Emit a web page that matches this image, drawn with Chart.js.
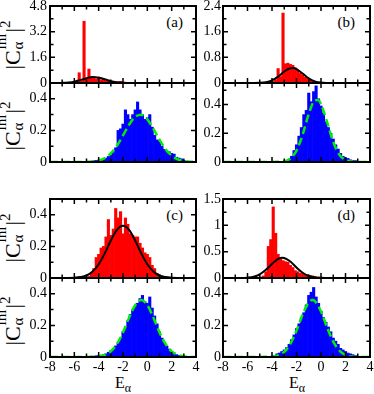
<!DOCTYPE html>
<html><head><meta charset="utf-8">
<script src="https://cdn.jsdelivr.net/npm/chart.js@4.4.1/dist/chart.umd.min.js"></script>
<style>
html,body{margin:0;padding:0;background:#fff;}
#wrap{position:relative;width:374px;height:394px;overflow:hidden;font-family:'Liberation Serif','Times New Roman',serif;color:#000;}
canvas{position:absolute;left:0;top:0;}
.lab{position:absolute;font-size:15px;line-height:15px;white-space:nowrap;}
.yt{position:absolute;white-space:nowrap;transform:translate(-50%,-50%) rotate(-90deg);font-size:22px;line-height:22px;}
.stk{display:inline-block;position:relative;width:18px;height:22px;vertical-align:baseline;}
.stk span{position:absolute;left:1px;font-size:15px;line-height:15px;}
.stk .sp{top:-4px;}
.stk .sb{top:13px;}
.s2{font-size:15px;position:relative;top:-10px;}
.xt{position:absolute;transform:translateX(-50%);font-size:16px;line-height:16px;white-space:nowrap;}
.xt sub{font-size:12px;vertical-align:baseline;position:relative;top:4px;}
</style></head><body><div id="wrap">
<div class="yt" style="left:12px;top:45px">|C<span class="stk"><span class="sp">ini</span><span class="sb">α</span></span>|<span class="s2">2</span></div>
<div class="yt" style="left:12px;top:126px">|C<span class="stk"><span class="sp">ini</span><span class="sb">α</span></span>|<span class="s2">2</span></div>
<div class="yt" style="left:12px;top:238px">|C<span class="stk"><span class="sp">ini</span><span class="sb">α</span></span>|<span class="s2">2</span></div>
<div class="yt" style="left:12px;top:321px">|C<span class="stk"><span class="sp">ini</span><span class="sb">α</span></span>|<span class="s2">2</span></div>
<div class="xt" style="left:123px;top:375px">E<sub>α</sub></div>
<div class="xt" style="left:297px;top:375px">E<sub>α</sub></div>
<div class="lab" style="right:191px;top:15px">(a)</div>
<div class="lab" style="right:19px;top:15px">(b)</div>
<div class="lab" style="right:191px;top:208px">(c)</div>
<div class="lab" style="right:19px;top:208px">(d)</div>
</div>
<script>
// ---------- data ----------
const aTopX = [-5.8,-5.6,-5.4,-5.2,-5.0,-4.8,-4.6,-4.4,-4.2,-4.0,-3.8,-3.6,-3.4,-3.2,-3.0,-2.8,-2.6,-2.4,-2.2,-2.0,-1.8];
const aTopY = [0.05,0.64,0.12,3.85,0.30,0.87,0.40,0.30,0.25,0.30,0.20,0.22,0.15,0.18,0.10,0.12,0.08,0.06,0.10,0.06,0.03];
const aFitX = [-8,-7.5,-7,-6.5,-6,-5.5,-5,-4.75,-4.5,-4.25,-4,-3.5,-3,-2.5,-2,-1.5,-1,4];
const aFitY = [0,0.001,0.007,0.027,0.081,0.181,0.299,0.344,0.368,0.365,0.337,0.229,0.116,0.044,0.012,0.003,0,0];
const aBotX = [-4.6,-4.4,-4.2,-4.0,-3.8,-3.6,-3.4,-3.2,-3.0,-2.8,-2.6,-2.4,-2.2,-2.0,-1.8,-1.6,-1.4,-1.2,-1.0,-0.8,-0.6,-0.4,-0.2,0,0.2,0.4,0.6,0.8,1.0,1.2,1.4,1.6,1.8,2.0,2.2,2.4,2.6,2.8,3.0,3.2];
const aBotY = [0.005,0.008,0.01,0.012,0.015,0.02,0.025,0.035,0.045,0.06,0.09,0.2,0.21,0.24,0.33,0.3,0.27,0.3,0.33,0.38,0.33,0.3,0.27,0.28,0.3,0.22,0.17,0.14,0.13,0.1,0.08,0.07,0.065,0.055,0.05,0.03,0.025,0.02,0.01,0.005];
const aGX = [-8,-5,-4.5,-4,-3.5,-3,-2.5,-2,-1.5,-1,-0.5,0,0.5,1,1.5,2,2.5,3,3.5,4];
const aGY = [0,0.001,0.003,0.010,0.025,0.055,0.103,0.168,0.236,0.286,0.299,0.270,0.210,0.141,0.081,0.041,0.017,0.006,0.002,0];

const bTopX = [-4.3,-4.1,-3.9,-3.7,-3.5,-3.3,-3.1,-2.9,-2.7,-2.5,-2.3,-2.1,-1.9,-1.7,-1.5,-1.3,-1.1,-0.9,-0.7,-0.5,-0.3,-0.1,0.1];
const bTopY = [0.01,0.02,0.05,0.10,0.45,0.20,2.18,0.60,0.62,0.58,0.55,0.47,0.40,0.30,0.25,0.18,0.14,0.10,0.07,0.05,0.03,0.02,0.01];
const bFitX = [-8,-5.5,-5,-4.5,-4,-3.5,-3,-2.5,-2.25,-2,-1.5,-1,-0.5,0,0.5,1,4];
const bFitY = [0,0.001,0.005,0.024,0.081,0.200,0.358,0.463,0.467,0.434,0.295,0.145,0.052,0.013,0.002,0,0];
const bBotX = [-3.0,-2.8,-2.6,-2.4,-2.2,-2.0,-1.8,-1.6,-1.4,-1.2,-1.0,-0.8,-0.6,-0.4,-0.2,0,0.2,0.4,0.6,0.8,1.0,1.2,1.4,1.6,1.8,2.0,2.2,2.4,2.6,2.8,3.0];
const bBotY = [0.005,0.01,0.02,0.04,0.08,0.12,0.18,0.24,0.33,0.36,0.48,0.42,0.49,0.53,0.44,0.39,0.34,0.28,0.24,0.2,0.16,0.12,0.09,0.06,0.04,0.03,0.025,0.015,0.012,0.01,0.005];
const bGX = [-8,-4,-3.5,-3,-2.5,-2,-1.5,-1,-0.5,-0.25,0,0.5,1,1.5,2,2.5,3,4];
const bGY = [0,0,0.001,0.005,0.024,0.079,0.190,0.334,0.429,0.432,0.403,0.277,0.139,0.051,0.014,0.003,0,0];

const cTopX = [-4.8,-4.6,-4.4,-4.2,-4.0,-3.8,-3.6,-3.4,-3.2,-3.0,-2.8,-2.6,-2.4,-2.2,-2.0,-1.8,-1.6,-1.4,-1.2,-1.0,-0.8,-0.6,-0.4,-0.2,0,0.2,0.4,0.6,0.8,1.0,1.2];
const cTopY = [0.01,0.03,0.06,0.13,0.15,0.19,0.2,0.26,0.37,0.27,0.31,0.44,0.38,0.42,0.28,0.38,0.34,0.28,0.27,0.26,0.26,0.22,0.19,0.16,0.15,0.13,0.08,0.06,0.03,0.02,0.01];
const cFitX = [-8,-7,-6,-5.5,-5,-4.5,-4,-3.5,-3,-2.5,-2,-1.5,-1,-0.5,0,0.5,1,1.5,2,3,4];
const cFitY = [0,0,0.002,0.006,0.016,0.041,0.087,0.156,0.237,0.304,0.33,0.304,0.237,0.156,0.087,0.041,0.016,0.006,0.002,0,0];
const cBotX = [-4.6,-4.4,-4.2,-4.0,-3.8,-3.6,-3.4,-3.2,-3.0,-2.8,-2.6,-2.4,-2.2,-2.0,-1.8,-1.6,-1.4,-1.2,-1.0,-0.8,-0.6,-0.4,-0.2,0,0.2,0.4,0.6,0.8,1.0,1.2,1.4,1.6,1.8,2.0,2.2,2.4,2.6,2.8];
const cBotY = [0.005,0.005,0.008,0.01,0.012,0.015,0.02,0.03,0.04,0.05,0.07,0.09,0.12,0.16,0.19,0.23,0.27,0.3,0.32,0.34,0.37,0.39,0.35,0.34,0.38,0.31,0.26,0.21,0.16,0.12,0.09,0.07,0.05,0.035,0.025,0.015,0.01,0.005];
const cGX = [-8,-5,-4.5,-4,-3.5,-3,-2.5,-2,-1.5,-1,-0.5,0,0.5,1,1.5,2,2.5,3,3.5,4];
const cGY = [0,0,0.001,0.004,0.013,0.036,0.082,0.156,0.249,0.328,0.36,0.328,0.249,0.156,0.082,0.036,0.013,0.004,0.001,0];

const dTopX = [-5.1,-4.9,-4.7,-4.5,-4.3,-4.1,-3.9,-3.7,-3.5,-3.3,-3.1,-2.9,-2.7,-2.5,-2.3,-2.1,-1.9,-1.7,-1.5,-1.3,-1.1,-0.9,-0.7,-0.5,-0.3,-0.1,0.1,0.3];
const dTopY = [0.01,0.02,0.04,0.12,0.6,0.73,1.35,0.85,0.45,0.36,0.33,0.31,0.3,0.24,0.2,0.14,0.12,0.09,0.08,0.07,0.06,0.05,0.04,0.03,0.02,0.015,0.01,0.005];
const dFitX = [-8,-7,-6.5,-6,-5.5,-5,-4.5,-4,-3.5,-3.15,-3,-2.5,-2,-1.5,-1,-0.5,0,0.5,1,4];
const dFitY = [0,0,0.001,0.007,0.024,0.070,0.155,0.268,0.362,0.385,0.381,0.312,0.199,0.099,0.038,0.012,0.003,0.001,0,0];
const dBotX = [-4.0,-3.8,-3.6,-3.4,-3.2,-3.0,-2.8,-2.6,-2.4,-2.2,-2.0,-1.8,-1.6,-1.4,-1.2,-1.0,-0.8,-0.6,-0.4,-0.2,0,0.2,0.4,0.6,0.8,1.0,1.2,1.4,1.6,1.8,2.0,2.2,2.4,2.6,2.8,3.0];
const dBotY = [0.005,0.01,0.02,0.025,0.035,0.045,0.06,0.08,0.11,0.14,0.18,0.21,0.25,0.28,0.33,0.39,0.41,0.44,0.38,0.34,0.29,0.25,0.22,0.19,0.16,0.12,0.1,0.08,0.055,0.045,0.035,0.025,0.02,0.015,0.01,0.005];
const dGX = [-8,-5,-4.5,-4,-3.5,-3,-2.5,-2,-1.5,-1,-0.7,-0.5,0,0.5,1,1.5,2,2.5,3,4];
const dGY = [0,0,0.001,0.003,0.010,0.033,0.083,0.167,0.269,0.346,0.36,0.354,0.288,0.187,0.097,0.040,0.013,0.003,0.001,0];

const X_MIN = -8, X_MAX = 4, X_LABEL_STEP = 2, X_MINOR = 1;

// ---------- layout ----------
const W = 374, H = 394, YW = 30, XH = 25;
const COL = { L: {l: 50, r: 196}, R: {l: 223, r: 370} };
const ROW = { t1: {t: 6, b: 83}, b1: {t: 83, b: 162}, t2: {t: 199, b: 278}, b2: {t: 278, b: 357} };
const FONT = {family: "'Liberation Serif','Times New Roman',serif", size: 14};
const fmt = v => String(Math.round(v * 1000) / 1000);
const pts = (xs, ys) => xs.map((x, i) => ({x, y: ys[i]}));

const frameTicks = {
  id: 'frameTicks',
  afterDatasetsDraw(chart, args, o) {
    const {ctx, chartArea: a} = chart;
    const xs = chart.scales.x, ys = chart.scales.y;
    ctx.save();
    ctx.strokeStyle = '#000';
    ctx.lineWidth = 1.5;
    ctx.beginPath();
    const nx = Math.round((xs.max - xs.min) / X_MINOR);
    for (let i = 0; i <= nx; i++) {
      const px = xs.getPixelForValue(xs.min + i * X_MINOR);
      const len = (i % 2 === 0) ? 5 : 3.5;
      ctx.moveTo(px, a.bottom); ctx.lineTo(px, a.bottom - len);
      ctx.moveTo(px, a.top); ctx.lineTo(px, a.top + len);
    }
    const ny = Math.floor((ys.max - ys.min) / o.yMinor + 1e-6);
    for (let i = 0; i <= ny; i++) {
      const py = ys.getPixelForValue(ys.min + i * o.yMinor);
      const len = (i % 2 === 0) ? 5 : 3.5;
      ctx.moveTo(a.left, py); ctx.lineTo(a.left + len, py);
      ctx.moveTo(a.right, py); ctx.lineTo(a.right - len, py);
    }
    ctx.stroke();
    ctx.lineWidth = 2;
    ctx.strokeRect(a.left, a.top, a.right - a.left, a.bottom - a.top);
    ctx.restore();
  }
};

function panel(col, row, barX, barY, barColor, fitX, fitY, fitColor, dashed, yMax, yStep, yMinor, xLabels) {
  const cv = document.createElement('canvas');
  cv.width = W; cv.height = H;
  document.getElementById('wrap').appendChild(cv);
  const c = COL[col], r = ROW[row];
  new Chart(cv, {
    type: 'bar',
    data: { datasets: [
      { type: 'line', data: pts(fitX, fitY), borderColor: fitColor, borderWidth: dashed ? 2.5 : 2,
        borderDash: dashed ? [8, 4] : [], pointRadius: 0, fill: false,
        cubicInterpolationMode: 'monotone', order: 0 },
      { type: 'bar', data: pts(barX, barY), backgroundColor: barColor, borderWidth: 0,
        barPercentage: 1, categoryPercentage: 1, grouped: false, order: 1 }
    ]},
    options: {
      responsive: false, animation: false, devicePixelRatio: 1, events: [],
      layout: { padding: { left: c.l - YW, right: W - c.r, top: r.t, bottom: H - r.b - XH } },
      plugins: { legend: {display: false}, tooltip: {enabled: false}, frameTicks: { yMinor } },
      scales: {
        x: { type: 'linear', min: X_MIN, max: X_MAX, offset: false,
             grid: {display: false, drawTicks: false}, border: {display: false},
             ticks: { display: xLabels, stepSize: X_LABEL_STEP, padding: 2, font: FONT, color: '#000',
                      maxRotation: 0, autoSkip: false, includeBounds: false, callback: fmt },
             afterFit(s) { s.height = XH; s.paddingLeft = 0; s.paddingRight = 0; } },
        y: { type: 'linear', min: 0, max: yMax,
             grid: {display: false, drawTicks: false}, border: {display: false},
             ticks: { stepSize: yStep, padding: col === 'L' ? 3 : 2, font: FONT, color: '#000',
                      autoSkip: false, includeBounds: false, callback: fmt },
             afterFit(s) { s.width = YW; s.paddingTop = 0; s.paddingBottom = 0; } }
      }
    },
    plugins: [frameTicks]
  });
}

const RED = '#ff0000', BLUE = '#0000ff', BLACK = '#000000', GREEN = '#00ee00';
panel('L', 't1', aTopX, aTopY, RED, aFitX, aFitY, BLACK, false, 4.8, 1.6, 0.8, false);
panel('L', 'b1', aBotX, aBotY, BLUE, aGX, aGY, GREEN, true, 0.5, 0.2, 0.1, false);
panel('R', 't1', bTopX, bTopY, RED, bFitX, bFitY, BLACK, false, 2.4, 0.8, 0.4, false);
panel('R', 'b1', bBotX, bBotY, BLUE, bGX, bGY, GREEN, true, 0.55, 0.2, 0.1, false);
panel('L', 't2', cTopX, cTopY, RED, cFitX, cFitY, BLACK, false, 0.5, 0.2, 0.1, false);
panel('L', 'b2', cBotX, cBotY, BLUE, cGX, cGY, GREEN, true, 0.5, 0.2, 0.1, true);
panel('R', 't2', dTopX, dTopY, RED, dFitX, dFitY, BLACK, false, 1.5, 0.5, 0.25, false);
panel('R', 'b2', dBotX, dBotY, BLUE, dGX, dGY, GREEN, true, 0.5, 0.2, 0.1, true);
</script>
</body></html>
